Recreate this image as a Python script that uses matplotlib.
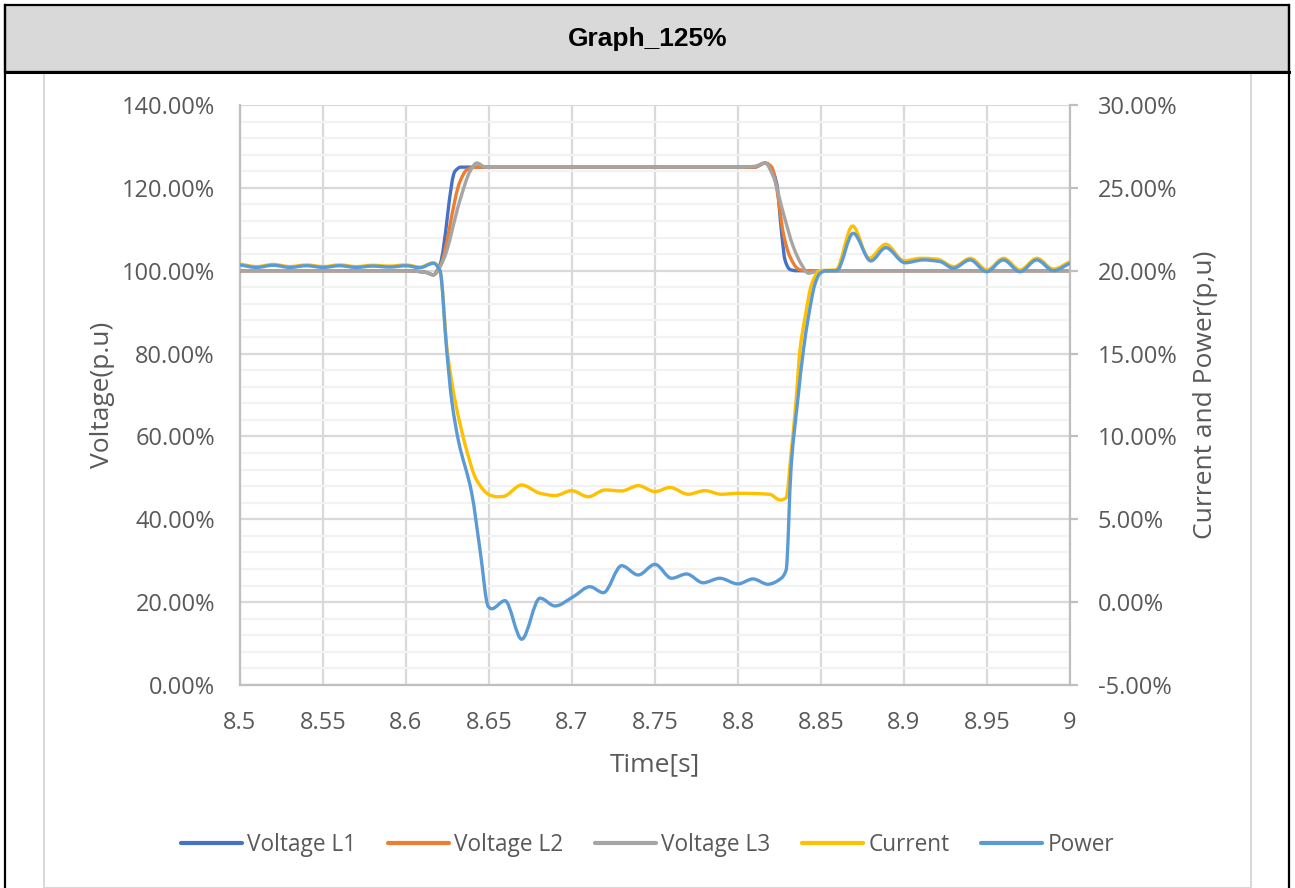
import numpy as np
import matplotlib
matplotlib.use("Agg")
import matplotlib.pyplot as plt
from matplotlib.path import Path
from matplotlib.patches import PathPatch, Rectangle
from matplotlib.lines import Line2D
from matplotlib.ticker import MultipleLocator, FuncFormatter

plt.rcParams['font.family'] = ['Open Sans', 'DejaVu Sans']

# ---------------- data ----------------
title = "Graph_125%"
series_names = ["Voltage L1", "Voltage L2", "Voltage L3", "Current", "Power"]
colors = ["#4472C4", "#ED7D31", "#A5A5A5", "#FFC000", "#5B9BD5"]

t_v1 = [8.50, 8.55, 8.60, 8.612, 8.6165, 8.6205, 8.6295, 8.633, 8.637, 8.70, 8.80, 8.81,
        8.8163, 8.8193, 8.8233, 8.8263, 8.8283, 8.8313, 8.835, 8.85, 8.90, 9.00]
v1 = [100.0, 100.0, 100.0, 99.6, 99.0, 101.5, 124.0, 125.0, 125.0, 125.0, 125.0, 125.0,
      126.0, 125.3, 121.0, 109.0, 102.6, 100.3, 100.0, 100.0, 100.0, 100.0]

t_v2 = [8.50, 8.55, 8.60, 8.612, 8.6165, 8.6205, 8.6325, 8.6365, 8.641, 8.70, 8.80, 8.81,
        8.8163, 8.8203, 8.8233, 8.8273, 8.8313, 8.8363, 8.84, 8.85, 8.90, 9.00]
v2 = [100.0, 100.0, 100.0, 99.6, 99.0, 101.0, 121.5, 124.3, 125.0, 125.0, 125.0, 125.0,
      126.0, 125.0, 120.0, 109.0, 103.4, 100.4, 100.0, 100.0, 100.0, 100.0]

t_v3 = [8.50, 8.55, 8.60, 8.612, 8.6165, 8.6225, 8.6325, 8.6386, 8.6426, 8.648, 8.70, 8.80, 8.81,
        8.8163, 8.8213, 8.8273, 8.8333, 8.8384, 8.8424, 8.8494, 8.90, 9.00]
v3 = [100.0, 100.0, 100.0, 99.6, 99.0, 102.6, 117.0, 124.0, 126.0, 125.0, 125.0, 125.0, 125.2,
      126.0, 122.7, 113.9, 105.8, 101.4, 99.4, 100.0, 100.0, 100.0]

t_cur = [8.50, 8.51, 8.52, 8.53, 8.54, 8.55, 8.56, 8.57, 8.58, 8.59, 8.60, 8.6084, 8.6165,
         8.6205, 8.6248, 8.6295, 8.6365, 8.6425, 8.6506, 8.6546, 8.6586, 8.6697, 8.6807,
         8.6898, 8.6998, 8.7098, 8.7199, 8.7299, 8.7399, 8.75, 8.759, 8.77, 8.78, 8.79,
         8.80, 8.819, 8.8255, 8.829, 8.832, 8.835, 8.8373, 8.8404, 8.8444, 8.849, 8.859,
         8.869, 8.879, 8.889, 8.90, 8.91, 8.92, 8.93, 8.94, 8.95, 8.96, 8.97, 8.98, 8.99, 9.00]
cur = [20.40, 20.25, 20.38, 20.25, 20.35, 20.25, 20.35, 20.25, 20.33, 20.28, 20.35, 20.22, 20.48,
       20.0, 15.2, 12.2, 9.18, 7.37, 6.46, 6.36, 6.38, 7.07, 6.57,
       6.43, 6.73, 6.36, 6.77, 6.71, 7.03, 6.67, 6.92, 6.51, 6.73, 6.51,
       6.57, 6.51, 6.16, 6.30, 9.0, 12.2, 15.2, 17.2, 19.2, 20.0, 20.05,
       22.7, 20.75, 21.6, 20.6, 20.75, 20.7, 20.25, 20.75, 20.05, 20.75, 20.05, 20.75, 20.1, 20.55]

t_pow = [8.50, 8.51, 8.52, 8.53, 8.54, 8.55, 8.56, 8.57, 8.58, 8.59, 8.60, 8.6084, 8.6165,
         8.6205, 8.6245, 8.6275, 8.6315, 8.6396, 8.6446, 8.6496, 8.6516, 8.6596, 8.6697,
         8.6807, 8.6898, 8.7008, 8.7108, 8.7189, 8.7299, 8.7399, 8.75, 8.76, 8.769, 8.779,
         8.789, 8.80, 8.809, 8.818, 8.826, 8.829, 8.832, 8.836, 8.8394, 8.8424, 8.8464,
         8.8494, 8.853, 8.8594, 8.8694, 8.880, 8.889, 8.9006, 8.9117, 8.9217, 8.9297,
         8.9398, 8.9498, 8.9598, 8.9699, 8.98, 8.99, 9.00]
pwr = [20.35, 20.2, 20.33, 20.2, 20.3, 20.2, 20.3, 20.2, 20.28, 20.22, 20.3, 20.18, 20.45,
       20.0, 15.2, 12.2, 9.78, 6.57, 3.15, -0.27, -0.4, 0.09, -2.24,
       0.24, -0.23, 0.33, 0.93, 0.57, 2.20, 1.64, 2.28, 1.44, 1.70, 1.17,
       1.44, 1.10, 1.40, 1.08, 1.44, 1.94, 8.17, 12.2, 15.2, 17.2, 19.2,
       19.84, 20.0, 20.0, 22.26, 20.59, 21.39, 20.48, 20.65, 20.55, 20.15,
       20.65, 19.94, 20.65, 19.94, 20.65, 20.0, 20.45]

x_ticks = [8.5, 8.55, 8.6, 8.65, 8.7, 8.75, 8.8, 8.85, 8.9, 8.95, 9.0]
x_labels = ["8.5", "8.55", "8.6", "8.65", "8.7", "8.75", "8.8", "8.85", "8.9", "8.95", "9"]


# ---------------- helpers ----------------
def pchip_slopes(x, y):
    x = np.asarray(x, float); y = np.asarray(y, float)
    h = np.diff(x); d = np.diff(y) / h
    m = np.zeros_like(y)
    m[0] = d[0]; m[-1] = d[-1]
    for k in range(1, len(x) - 1):
        if d[k - 1] * d[k] <= 0:
            m[k] = 0.0
        else:
            w1 = 2 * h[k] + h[k - 1]
            w2 = h[k] + 2 * h[k - 1]
            m[k] = (w1 + w2) / (w1 / d[k - 1] + w2 / d[k])
    return m


def smooth_path(x, y):
    x = np.asarray(x, float); y = np.asarray(y, float)
    m = pchip_slopes(x, y)
    verts = [(x[0], y[0])]
    codes = [Path.MOVETO]
    for k in range(len(x) - 1):
        h = x[k + 1] - x[k]
        verts += [(x[k] + h / 3, y[k] + m[k] * h / 3),
                  (x[k + 1] - h / 3, y[k + 1] - m[k + 1] * h / 3),
                  (x[k + 1], y[k + 1])]
        codes += [Path.CURVE4] * 3
    return Path(verts, codes)


W, H = 1295, 888
fig = plt.figure(figsize=(W / 100, H / 100), dpi=100)


def fx(px):
    return px / W


def fy(py):
    return 1 - py / H


# frame: header band and borders
fig.patches.append(Rectangle((fx(44), fy(888)), fx(1251) - fx(44), fy(73) - fy(888),
                             transform=fig.transFigure, facecolor="none",
                             edgecolor="#D9D9D9", lw=1.5, zorder=0))
fig.patches.append(Rectangle((fx(5), fy(72)), fx(1289) - fx(5), fy(5) - fy(72),
                             transform=fig.transFigure, facecolor="#D9D9D9",
                             edgecolor="black", lw=1.6, zorder=1))
fig.lines.append(Line2D([fx(5), fx(1289)], [fy(72), fy(72)], transform=fig.transFigure,
                        color="black", lw=2.2))
fig.lines.append(Line2D([fx(5), fx(5)], [fy(5), 0], transform=fig.transFigure,
                        color="black", lw=1.6))
fig.lines.append(Line2D([fx(1289), fx(1289)], [fy(5), 0], transform=fig.transFigure,
                        color="black", lw=1.6))
fig.text(0.5, fy(39), title, ha="center", va="center", fontsize=19,
         fontweight="bold", family="Liberation Sans", color="black")

ax = fig.add_axes([fx(240), fy(685), fx(1070) - fx(240), fy(105) - fy(685)])
ax2 = ax.twinx()

grey_txt = "#595959"
ax.set_xlim(8.5, 9.0)
ax.set_ylim(0, 140)
ax2.set_ylim(-5, 30)

ax.yaxis.set_major_locator(MultipleLocator(20))
ax.yaxis.set_minor_locator(MultipleLocator(4))
ax2.yaxis.set_major_locator(MultipleLocator(5))
ax.set_xticks(x_ticks)
ax.set_xticklabels(x_labels)
ax.yaxis.set_major_formatter(FuncFormatter(lambda v, p: f"{v:.2f}%"))
ax2.yaxis.set_major_formatter(FuncFormatter(lambda v, p: f"{v:.2f}%"))

ax.grid(True, which="major", axis="both", color="#D9D9D9", lw=1.6, zorder=0)
ax.grid(True, which="minor", axis="y", color="#F2F2F2", lw=1.6, zorder=0)
ax.set_axisbelow(True)

for a in (ax, ax2):
    for s in a.spines.values():
        s.set_visible(False)
ax.spines["left"].set_visible(True)
ax.spines["left"].set_color("#BFBFBF")
ax.spines["left"].set_linewidth(1.6)
ax.spines["bottom"].set_visible(True)
ax.spines["bottom"].set_color("#BFBFBF")
ax.spines["bottom"].set_linewidth(1.6)
ax2.spines["right"].set_visible(True)
ax2.spines["right"].set_color("#BFBFBF")
ax2.spines["right"].set_linewidth(1.6)

fs = 17
ax.tick_params(axis="y", which="both", length=0, pad=18, labelsize=fs, labelcolor=grey_txt)
ax.tick_params(axis="x", which="both", length=0, pad=19, labelsize=fs, labelcolor=grey_txt)
ax2.tick_params(axis="y", which="major", length=6, width=1.6, color="#BFBFBF", direction="out",
                pad=14, labelsize=fs, labelcolor=grey_txt)
ax2.tick_params(axis="y", which="minor", length=0)

ax.set_xlabel("Time[s]", fontsize=19, color=grey_txt, labelpad=12)
ax.set_ylabel("Voltage(p.u)", fontsize=19, color=grey_txt, labelpad=5)
ax2.set_ylabel("Current and Power(p,u)", fontsize=19, color=grey_txt, labelpad=11)

lw = 2.4
left_series = [(t_v1, v1), (t_v2, v2), (t_v3, v3)]
for (tt, vv), c in zip(left_series, colors[:3]):
    ax.add_patch(PathPatch(smooth_path(tt, vv), fill=False, edgecolor=c, lw=lw,
                           capstyle="round", joinstyle="round", zorder=3))
right_series = [(t_cur, cur), (t_pow, pwr)]
for (tt, vv), c in zip(right_series, colors[3:]):
    ax2.add_patch(PathPatch(smooth_path(tt, vv), fill=False, edgecolor=c, lw=lw,
                            capstyle="round", joinstyle="round", zorder=3))

handles = [Line2D([], [], color=c, lw=3, solid_capstyle="round") for c in colors]
fig.legend(handles, series_names, loc="center", bbox_to_anchor=(0.5, fy(845)), ncol=5,
           frameon=False, fontsize=16.3, handlelength=2.7, handletextpad=0.22,
           columnspacing=1.4, labelcolor=grey_txt)

fig.savefig("out.png", dpi=100)
